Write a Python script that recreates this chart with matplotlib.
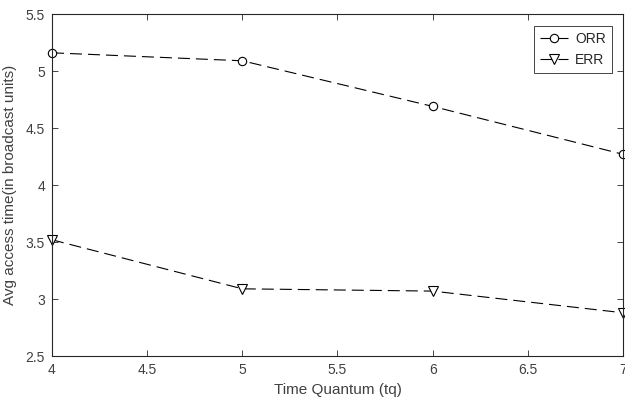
import matplotlib
matplotlib.use("Agg")
import matplotlib.pyplot as plt

plt.rcParams['font.family'] = ['Liberation Sans', 'DejaVu Sans']

# data
tq = [4, 5, 6, 7]
orr = [5.16, 5.09, 4.69, 4.27]
err = [3.52, 3.09, 3.07, 2.88]
x_ticks = [4, 4.5, 5, 5.5, 6, 6.5, 7]
x_tick_labels = ["4", "4.5", "5", "5.5", "6", "6.5", "7"]
y_ticks = [2.5, 3, 3.5, 4, 4.5, 5, 5.5]
y_tick_labels = ["2.5", "3", "3.5", "4", "4.5", "5", "5.5"]

txt_col = "#404040"
dash = (0, (10.8, 5.4))

fig = plt.figure(figsize=(6.25, 4.01), dpi=100)
ax = fig.add_axes([0.0832, 0.112, 0.9136, 0.853])

ax.plot(tq, orr, color="black", lw=0.8, ls=dash, marker="o", markersize=6,
	markerfacecolor="white", markeredgecolor="black", markeredgewidth=0.8,
	label="ORR", clip_on=False)
ax.plot(tq, err, color="black", lw=0.8, ls=dash, marker="v", markersize=6.5,
	markerfacecolor="white", markeredgecolor="black", markeredgewidth=0.8,
	label="ERR", clip_on=False)

ax.set_xlim(4, 7)
ax.set_ylim(2.5, 5.5)
ax.set_xticks(x_ticks)
ax.set_xticklabels(x_tick_labels)
ax.set_yticks(y_ticks)
ax.set_yticklabels(y_tick_labels)
ax.tick_params(direction="in", top=True, right=True, length=4, width=0.6,
	colors="#262626", labelcolor=txt_col, labelsize=10, pad=5)
for sp in ax.spines.values():
	sp.set_color("#262626")
	sp.set_linewidth(0.8)

ax.set_xlabel("Time Quantum (tq)", fontsize=11, color=txt_col, labelpad=4)
ax.set_ylabel("Avg access time(in broadcast units)", fontsize=11, color=txt_col, labelpad=6)

leg = ax.legend(loc="upper right", bbox_to_anchor=(0.981, 0.965), fontsize=10,
	fancybox=False, framealpha=1, edgecolor="#262626", handlelength=2.0,
	handletextpad=0.5, borderpad=0.45, labelspacing=0.45, borderaxespad=0)
leg.get_frame().set_linewidth(0.6)
for t in leg.get_texts():
	t.set_color("#262626")

fig.savefig("out.png", dpi=100)
